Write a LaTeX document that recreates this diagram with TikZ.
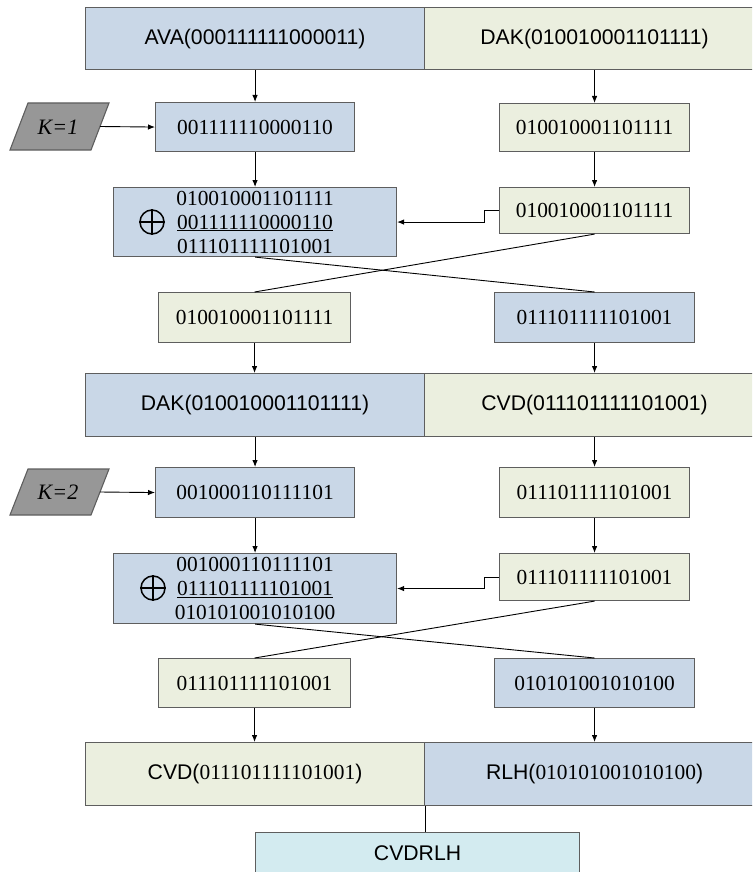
\documentclass[tikz,border=0pt]{standalone}
\usepackage{fontspec}
\setmainfont{Liberation Serif}
\newfontfamily\labelsans{Liberation Sans}
\usetikzlibrary{arrows.meta}
\definecolor{boxblue}{HTML}{C9D7E7}
\definecolor{boxgreen}{HTML}{EBEFDF}
\definecolor{boxcyan}{HTML}{D3EBF0}
\definecolor{keygray}{HTML}{979797}
\definecolor{edgegray}{HTML}{5E5E5E}
\newcommand\sanspart[1]{{\labelsans\fontsize{21.2}{24}\selectfont #1}}
\begin{document}
\begin{tikzpicture}[x=1pt,y=-1pt,
  cell/.style={draw=edgegray, line width=1.1pt, inner sep=0pt, anchor=north west,
               font=\fontsize{21.4}{24}\selectfont},
  bluecell/.style={cell, fill=boxblue},
  greencell/.style={cell, fill=boxgreen},
  big/.style={font=\labelsans\fontsize{21.2}{24}\selectfont},
  arr/.style={draw=black, line width=0.9pt, -{Latex[length=7pt,width=5.5pt]}},
  wire/.style={draw=black, line width=0.9pt},
  keybox/.style={draw=edgegray, fill=keygray, line width=1.1pt},
  keytext/.style={font=\itshape\fontsize{22}{24}\selectfont},
  xorsign/.style={circle, draw=black, line width=1.5pt, minimum size=24pt, inner sep=0pt},
]
\clip (0,0) rectangle (752,872);

% ---- round 1 input halves
\node[bluecell, big, minimum width=339, minimum height=62] (ava) at (85,7) {AVA(000111111000011)};
\node[greencell, big, minimum width=340, minimum height=62] (dak) at (424,7) {DAK(010010001101111)};

% ---- round 1
\draw[keybox] (10,150) -- (28,103) -- (109,103) -- (91,150) -- cycle;
\node[keytext] (kone) at (58,127) {K=1};
\coordinate (koneout) at (100,126.5);
\node[bluecell, minimum width=199, minimum height=49] (k1key) at (155,102) {001111110000110};
\node[greencell, minimum width=190, minimum height=48] (r2) at (499,103) {010010001101111};

\node[bluecell, minimum width=283, minimum height=69, align=center] (xor1) at (113,187)
  {010010001101111\\\underline{001111110000110}\\011101111101001};
\node[xorsign] (op1) at (152,222) {};
\draw[line width=1.5pt] (op1.north) -- (op1.south) (op1.west) -- (op1.east);
\node[greencell, minimum width=190, minimum height=46] (r3) at (499,187) {010010001101111};

\node[greencell, minimum width=192, minimum height=50] (l4) at (158,292) {010010001101111};
\node[bluecell, minimum width=200, minimum height=50] (r4) at (494,292) {011101111101001};

% ---- round 2 input halves
\node[bluecell, big, minimum width=339, minimum height=63] (dak2) at (85,373) {DAK(010010001101111)};
\node[greencell, big, minimum width=340, minimum height=63] (cvd) at (424,373) {CVD(011101111101001)};

% ---- round 2
\draw[keybox] (10,515) -- (28,469) -- (109,469) -- (91,515) -- cycle;
\node[keytext] (ktwo) at (58,492) {K=2};
\coordinate (ktwoout) at (100,492);
\node[bluecell, minimum width=199, minimum height=50] (k2key) at (155,467) {001000110111101};
\node[greencell, minimum width=190, minimum height=50] (r6) at (499,467) {011101111101001};

\node[bluecell, minimum width=283, minimum height=70, align=center] (xor2) at (113,553)
  {001000110111101\\\underline{011101111101001}\\010101001010100};
\node[xorsign] (op2) at (153,588) {};
\draw[line width=1.5pt] (op2.north) -- (op2.south) (op2.west) -- (op2.east);
\node[greencell, minimum width=190, minimum height=47] (r7) at (499,553) {011101111101001};

\node[greencell, minimum width=192, minimum height=49] (l8) at (158,658) {011101111101001};
\node[bluecell, minimum width=200, minimum height=49] (r8) at (494,658) {010101001010100};

% ---- output halves and result
\node[greencell, minimum width=339, minimum height=63] (cvd2) at (85,742)
  {\sanspart{CVD(}011101111101001\sanspart{)}};
\node[bluecell, minimum width=340, minimum height=63] (rlh) at (424,742)
  {\sanspart{RLH(}010101001010100\sanspart{)}};
\node[cell, big, fill=boxcyan, minimum width=324, minimum height=42] (cvdrlh) at (255,832) {CVDRLH};

% ---- connectors, round 1
\draw[arr] (ava.south) -- (ava.south |- k1key.north);
\draw[arr] (dak.south) -- (dak.south |- r2.north);
\draw[arr] (koneout) -- (k1key.west);
\draw[arr] (k1key.south) -- (k1key.south |- xor1.north);
\draw[arr] (r2.south) -- (r2.south |- r3.north);
\draw[arr] (r3.west) -- ++(-15,0) |- (xor1.east);
\draw[wire] (xor1.south) -- (r4.north);
\draw[wire] (r3.south) -- (l4.north);
\draw[arr] (l4.south) -- (l4.south |- dak2.north);
\draw[arr] (r4.south) -- (r4.south |- cvd.north);

% ---- connectors, round 2
\draw[arr] (dak2.south) -- (dak2.south |- k2key.north);
\draw[arr] (cvd.south) -- (cvd.south |- r6.north);
\draw[arr] (ktwoout) -- (k2key.west);
\draw[arr] (k2key.south) -- (k2key.south |- xor2.north);
\draw[arr] (r6.south) -- (r6.south |- r7.north);
\draw[arr] (r7.west) -- ++(-15,0) |- (xor2.east);
\draw[wire] (xor2.south) -- (r8.north);
\draw[wire] (r7.south) -- (l8.north);
\draw[arr] (l8.south) -- (l8.south |- cvd2.north);
\draw[arr] (r8.south) -- (r8.south |- rlh.north);

% ---- join
\draw[wire] (cvd2.south east) -- (cvd2.south east |- cvdrlh.north);
\end{tikzpicture}
\end{document}
